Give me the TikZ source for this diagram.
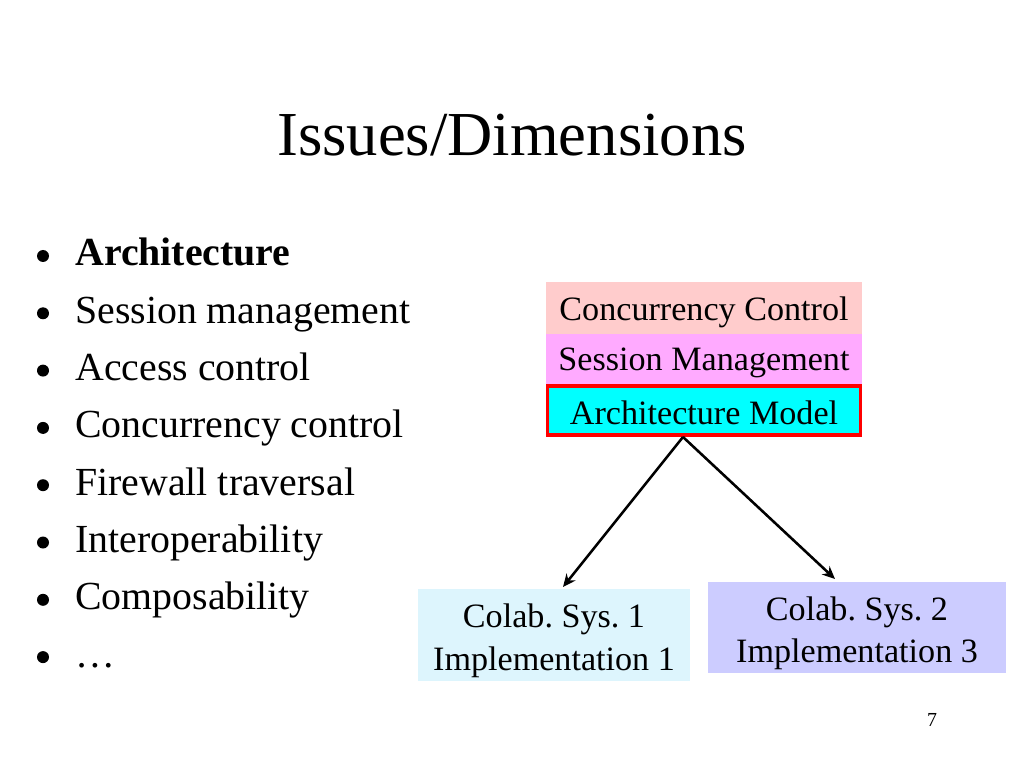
\documentclass[tikz,border=0pt]{standalone}
\usepackage{fontspec}
\setmainfont{Liberation Serif}
\usetikzlibrary{arrows.meta,calc}

\definecolor{ccpink}{HTML}{FFCCCC}
\definecolor{smpink}{HTML}{FFAAFF}
\definecolor{amcyan}{HTML}{00FFFF}
\definecolor{csblue}{HTML}{DDF5FD}
\definecolor{cslilac}{HTML}{CCCCFF}
\newcommand{\lowr}[2]{\raisebox{-#1}[\height][\depth]{#2}}
\frenchspacing

\begin{document}
\begin{tikzpicture}[x=0.703125pt,y=-0.703125pt,
  layer/.style={minimum width=316*0.703125pt,inner sep=0pt,font=\fontsize{24}{28}\selectfont},
  sysbox/.style={align=center,inner sep=0pt,font=\fontsize{24}{30}\selectfont},
  bul/.style={anchor=base west,inner sep=0pt,font=\fontsize{28}{34}\selectfont}]

\useasboundingbox (0,0) rectangle (1024,768);

\node[font=\fontsize{44}{50}\selectfont,anchor=base] (title) at (512,156) {Issues/Dimensions};

% bullet list
\foreach \txt [count=\i] in {\textbf{Architecture},Session management,Access control,Concurrency control,Firewall traversal,Interoperability,Composability,\dots}{
  \node[bul] (b\i) at (75,{266+57.3*(\i-1)}) {\txt};
  \fill (43,{266+57.3*(\i-1)-10}) circle (6);
}

% layers
\node[layer,fill=ccpink,minimum height=52*0.703125pt] (cc) at (704,308) {\lowr{3pt}{Concurrency Control}};
\node[layer,fill=smpink,minimum height=50*0.703125pt] (sm) at (704,359) {\lowr{3pt}{Session Management}};
\node[layer,fill=amcyan,draw=red,line width=2.2pt,minimum width=313*0.703125pt,minimum height=49*0.703125pt] (am) at (704,410.5) {\lowr{1.5pt}{Architecture Model}};

% systems
\node[sysbox,fill=csblue,minimum width=272*0.703125pt,minimum height=92*0.703125pt] (cs1) at (554,635) {\lowr{4pt}{Colab. Sys. 1}\\\lowr{4pt}{Implementation 1}};
\node[sysbox,fill=cslilac,minimum width=298*0.703125pt,minimum height=91*0.703125pt] (cs2) at (857,627.5) {\lowr{4pt}{Colab. Sys. 2}\\\lowr{4pt}{Implementation 3}};

\coordinate (apex) at (683,437);
\coordinate (t1) at (563,587);
\coordinate (t2) at (835,579);
\draw[line width=1.8pt,-{Stealth[length=9pt,width=8pt]}] (apex) -- (t1);
\draw[line width=1.8pt,-{Stealth[length=9pt,width=8pt]}] (apex) -- (t2);

\node[font=\fontsize{14}{16}\selectfont,anchor=base] (pg) at (932,726) {7};

\end{tikzpicture}
\end{document}
